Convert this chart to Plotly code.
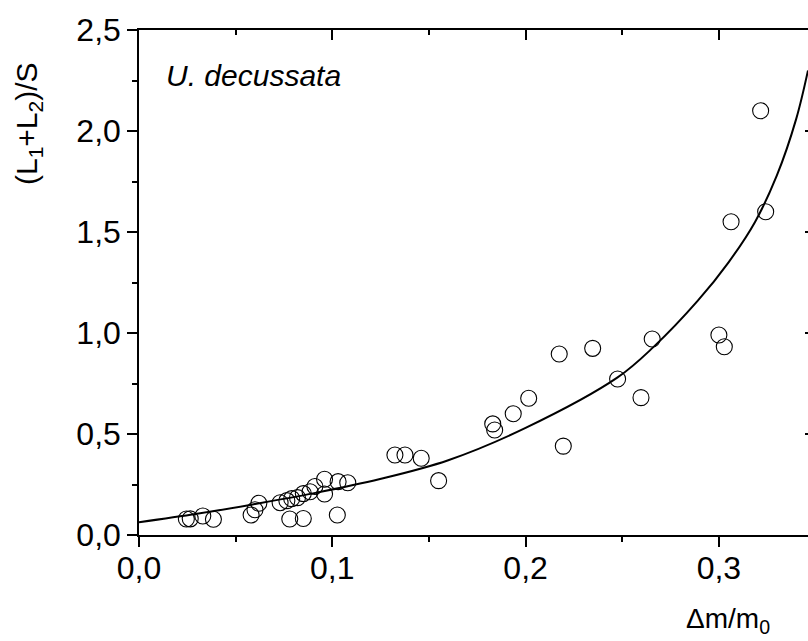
import plotly.graph_objects as go

# Measured points: relative mass change vs (L1+L2)/S
dm = [0.0245, 0.0265, 0.033, 0.0385, 0.058, 0.060, 0.062, 0.073, 0.0765, 0.079,
      0.082, 0.078, 0.085, 0.085, 0.0885, 0.091, 0.096, 0.096, 0.1026, 0.103,
      0.108, 0.1324, 0.1376, 0.146, 0.155, 0.183, 0.184, 0.1936, 0.2016, 0.2174,
      0.2195, 0.2347, 0.2476, 0.2597, 0.2655, 0.300, 0.3028, 0.3063, 0.3242, 0.3216]
ls = [0.079, 0.080, 0.094, 0.078, 0.099, 0.125, 0.157, 0.160, 0.170, 0.180,
      0.185, 0.079, 0.082, 0.205, 0.214, 0.240, 0.203, 0.276, 0.099, 0.264,
      0.259, 0.396, 0.396, 0.380, 0.269, 0.550, 0.520, 0.600, 0.677, 0.896,
      0.440, 0.924, 0.772, 0.680, 0.970, 0.990, 0.932, 1.551, 1.600, 2.100]

# Fitted curve
fit_x = [0.0, 0.03, 0.0574, 0.09, 0.1247, 0.16, 0.2, 0.2476, 0.2661, 0.2891,
         0.305, 0.3187, 0.33, 0.34, 0.3461]
fit_y = [0.063, 0.105, 0.149, 0.206, 0.277, 0.37, 0.53, 0.78, 0.93, 1.16,
         1.35, 1.55, 1.78, 2.06, 2.30]

x_ticks = [0.0, 0.1, 0.2, 0.3]
y_ticks = [0.0, 0.5, 1.0, 1.5, 2.0, 2.5]

FONT = "Arial, Liberation Sans, sans-serif"
XR = [0.0, 0.3461]
YR = [0.0, 2.5]

fig = go.Figure()
fig.add_trace(go.Scatter(x=fit_x, y=fit_y, mode="lines",
                         line=dict(color="black", width=2, shape="spline", smoothing=1),
                         hoverinfo="skip", showlegend=False))
fig.add_trace(go.Scatter(x=dm, y=ls, mode="markers",
                         marker=dict(symbol="circle-open", size=16, color="black", line=dict(width=1.1)),
                         showlegend=False))
# invisible trace for mirrored axes
fig.add_trace(go.Scatter(x=[None], y=[None], xaxis="x2", yaxis="y2", showlegend=False, hoverinfo="skip"))

axis_common = dict(showgrid=False, zeroline=False, showline=True, linecolor="black", linewidth=1.5,
                   tickcolor="black", tickwidth=1.5)

fig.update_layout(
    width=808, height=641,
    margin=dict(l=139, r=0, t=30, b=106),
    paper_bgcolor="white", plot_bgcolor="white",
    separators=", ",
    font=dict(family=FONT, size=30, color="black"),
    xaxis=dict(range=XR, tickvals=x_ticks, tickformat=".1f", ticks="outside", ticklen=10,
               ticklabelstandoff=-6,
               minor=dict(dtick=0.05, ticks="outside", ticklen=5, tickcolor="black", tickwidth=1.5),
               tickfont=dict(size=32), **axis_common),
    yaxis=dict(range=YR, tickvals=y_ticks, tickformat=".1f", ticks="outside", ticklen=10,
               minor=dict(dtick=0.25, ticks="outside", ticklen=5, tickcolor="black", tickwidth=1.5),
               tickfont=dict(size=32), **axis_common),
    xaxis2=dict(range=XR, overlaying="x", side="top", anchor="y", ticks="inside", ticklen=10,
                tickvals=x_ticks, showticklabels=False,
                minor=dict(dtick=0.05, ticks="inside", ticklen=5, tickcolor="black", tickwidth=1.5),
                **axis_common),
    yaxis2=dict(range=YR, overlaying="y", side="right", anchor="x", ticks="inside", ticklen=3,
                tickvals=y_ticks, showticklabels=False, showgrid=False, zeroline=False, showline=False,
                tickcolor="black", tickwidth=1.5),
    annotations=[
        dict(text="<i>U. decussata</i>", xref="paper", yref="paper", x=0.038, y=0.909,
             xanchor="left", yanchor="middle", showarrow=False, font=dict(size=30)),
        dict(text="(L<sub>1</sub>+L<sub>2</sub>)/S", xref="paper", yref="paper", x=-0.165, y=0.815,
             xanchor="center", yanchor="middle", textangle=-90, showarrow=False, font=dict(size=30)),
        dict(text="Δm/m<sub>0</sub>", xref="paper", yref="paper", x=0.946, y=-0.17,
             xanchor="right", yanchor="middle", showarrow=False, font=dict(size=28)),
    ],
)

fig.write_html("out.html", config={"displayModeBar": False},
               post_script="document.body.style.margin='0';document.body.style.overflow='hidden';")
